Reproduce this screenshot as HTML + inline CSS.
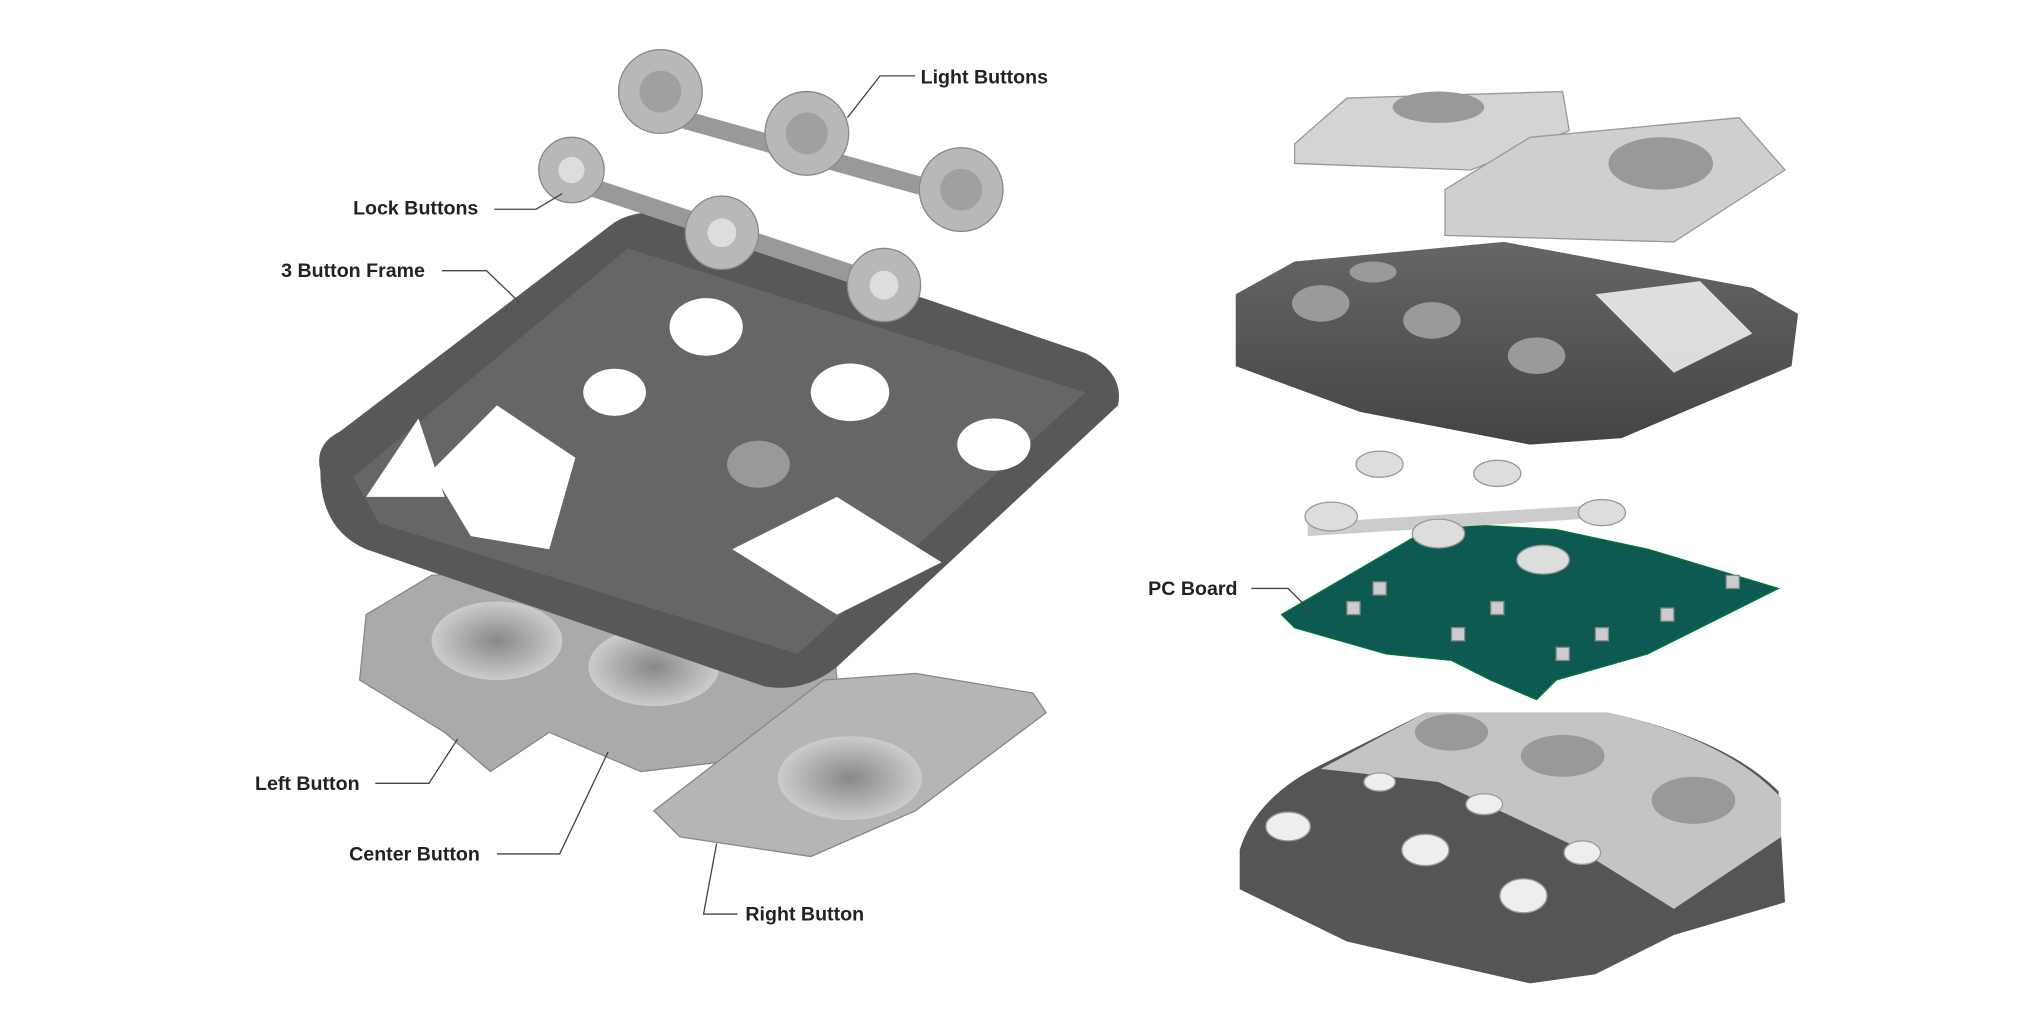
<!DOCTYPE html>
<html><head><meta charset="utf-8"><style>
html,body{margin:0;padding:0;background:#fff;width:2040px;height:1020px;overflow:hidden}
svg{display:block}
text{font-family:"Liberation Sans",Arial,sans-serif;font-weight:bold;font-size:15px;fill:#222}
</style></head><body>
<svg width="2040" height="1020" viewBox="0 0 1560 780" xmlns="http://www.w3.org/2000/svg">
<defs>
<linearGradient id="dk" x1="0" y1="0" x2="0" y2="1"><stop offset="0" stop-color="#666"/><stop offset="1" stop-color="#444"/></linearGradient>
<radialGradient id="hole"><stop offset="0" stop-color="#888"/><stop offset="1" stop-color="#ccc"/></radialGradient>
</defs>
<!-- left buttons -->
<path d="M280,470 L330,440 L470,430 L635,455 L640,520 L575,580 L490,590 L420,560 L375,590 L340,560 L275,520 Z" fill="#aaa" stroke="#888"/>
<ellipse cx="380" cy="490" rx="50" ry="30" fill="url(#hole)"/>
<ellipse cx="500" cy="510" rx="50" ry="30" fill="url(#hole)"/>
<path d="M500,620 L630,520 L700,515 L790,530 L800,545 L700,620 L620,655 L520,640 Z" fill="#b5b5b5" stroke="#888"/>
<ellipse cx="650" cy="595" rx="55" ry="32" fill="url(#hole)"/>
<!-- frame -->
<path d="M245,360 Q240,340 260,330 L470,170 Q490,158 520,165 L830,270 Q860,285 855,310 L640,510 Q615,530 585,525 L280,420 Q245,405 245,360 Z" fill="#585858"/>
<path d="M270,365 L480,190 L830,300 L610,500 L290,400 Z" fill="#666"/>
<path d="M330,360 L380,310 L440,350 L420,420 L360,410 Z M560,420 L640,380 L720,430 L640,470 Z M280,380 L320,320 L340,380 Z" fill="#fff"/>
<ellipse cx="540" cy="250" rx="28" ry="22" fill="#fff"/>
<ellipse cx="470" cy="300" rx="24" ry="18" fill="#fff"/>
<ellipse cx="650" cy="300" rx="30" ry="22" fill="#fff"/>
<ellipse cx="580" cy="355" rx="24" ry="18" fill="#999"/>
<ellipse cx="760" cy="340" rx="28" ry="20" fill="#fff"/>
<!-- lock buttons -->
<path d="M420,125 L690,215 L685,228 L415,138 Z" fill="#999"/>
<g fill="#b8b8b8" stroke="#888"><circle cx="437" cy="130" r="25"/><circle cx="552" cy="178" r="28"/><circle cx="676" cy="218" r="28"/></g>
<g fill="#ddd"><circle cx="437" cy="130" r="10"/><circle cx="552" cy="178" r="11"/><circle cx="676" cy="218" r="11"/></g>
<!-- light buttons -->
<path d="M490,75 L740,145 L735,158 L485,88 Z" fill="#999"/>
<g fill="#b8b8b8" stroke="#888"><circle cx="505" cy="70" r="32"/><circle cx="617" cy="102" r="32"/><circle cx="735" cy="145" r="32"/></g>
<g fill="#a0a0a0"><circle cx="505" cy="70" r="16"/><circle cx="617" cy="102" r="16"/><circle cx="735" cy="145" r="16"/></g>
<!-- right: caps -->
<path d="M990,110 L1030,75 L1195,70 L1200,100 L1125,130 L990,125 Z" fill="#d4d4d4" stroke="#999"/>
<path d="M1105,145 L1170,105 L1330,90 L1365,130 L1280,185 L1105,180 Z" fill="#cfcfcf" stroke="#999"/>
<ellipse cx="1270" cy="125" rx="40" ry="20" fill="#999"/>
<ellipse cx="1100" cy="82" rx="35" ry="12" fill="#999"/>
<!-- dark base -->
<path d="M945,225 L990,200 L1150,185 L1340,220 L1375,240 L1370,280 L1240,335 L1170,340 L1040,315 L945,280 Z" fill="url(#dk)"/>
<g fill="#9a9a9a"><ellipse cx="1010" cy="232" rx="22" ry="14"/><ellipse cx="1095" cy="245" rx="22" ry="14"/><ellipse cx="1175" cy="272" rx="22" ry="14"/><ellipse cx="1050" cy="208" rx="18" ry="8"/></g>
<path d="M1220,225 L1300,215 L1340,255 L1280,285 Z" fill="#fff" opacity=".8"/>
<!-- PCB -->
<path d="M980,470 L1100,400 L1190,405 L1260,420 L1360,450 L1260,500 L1190,520 L1175,535 L1140,520 L1110,505 L1060,500 L990,480 Z" fill="#0d5a52" stroke="#073"/>
<g fill="#ccc" stroke="#888"><rect x="1030" y="460" width="10" height="10"/><rect x="1110" y="480" width="10" height="10"/><rect x="1140" y="460" width="10" height="10"/><rect x="1190" y="495" width="10" height="10"/><rect x="1220" y="480" width="10" height="10"/><rect x="1270" y="465" width="10" height="10"/><rect x="1320" y="440" width="10" height="10"/><rect x="1050" y="445" width="10" height="10"/></g>
<path d="M1000,400 L1240,385 L1240,395 L1000,410 Z" fill="#ccc"/>
<g fill="#ddd" stroke="#999"><ellipse cx="1055" cy="355" rx="18" ry="10"/><ellipse cx="1145" cy="362" rx="18" ry="10"/><ellipse cx="1225" cy="392" rx="18" ry="10"/><ellipse cx="1018" cy="395" rx="20" ry="11"/><ellipse cx="1100" cy="408" rx="20" ry="11"/><ellipse cx="1180" cy="428" rx="20" ry="11"/></g>
<!-- bottom assembly -->
<path d="M948,650 Q960,610 1010,585 L1090,545 L1230,545 Q1320,565 1360,605 L1365,690 L1280,715 L1220,745 L1170,752 L1030,720 L948,680 Z" fill="#555"/>
<path d="M1010,588 L1090,545 L1230,545 Q1320,565 1362,610 L1362,640 L1280,695 L1200,645 L1100,598 Z" fill="#c4c4c4"/>
<g fill="#eee" stroke="#999"><ellipse cx="1055" cy="598" rx="12" ry="7"/><ellipse cx="1135" cy="615" rx="14" ry="8"/><ellipse cx="1210" cy="652" rx="14" ry="9"/><ellipse cx="985" cy="632" rx="17" ry="11"/><ellipse cx="1090" cy="650" rx="18" ry="12"/><ellipse cx="1165" cy="685" rx="18" ry="13"/></g>
<g fill="#999"><ellipse cx="1110" cy="560" rx="28" ry="14"/><ellipse cx="1195" cy="578" rx="32" ry="16"/><ellipse cx="1295" cy="612" rx="32" ry="18"/></g>
<!-- leaders -->
<g stroke="#444" stroke-width="1" fill="none">
<polyline points="700,58 673,58 648,90"/>
<polyline points="378,160 410,160 430,148"/>
<polyline points="338,207 372,207 398,232"/>
<polyline points="287,599 328,599 350,565"/>
<polyline points="380,653 428,653 465,575"/>
<polyline points="564,699 538,699 548,645"/>
<polyline points="957,450 985,450 1005,470"/>
</g>
<text x="704" y="64">Light Buttons</text>
<text x="270" y="164">Lock Buttons</text>
<text x="215" y="212">3 Button Frame</text>
<text x="195" y="604">Left Button</text>
<text x="267" y="658">Center Button</text>
<text x="570" y="704">Right Button</text>
<text x="878" y="455">PC Board</text>
</svg>
</body></html>
